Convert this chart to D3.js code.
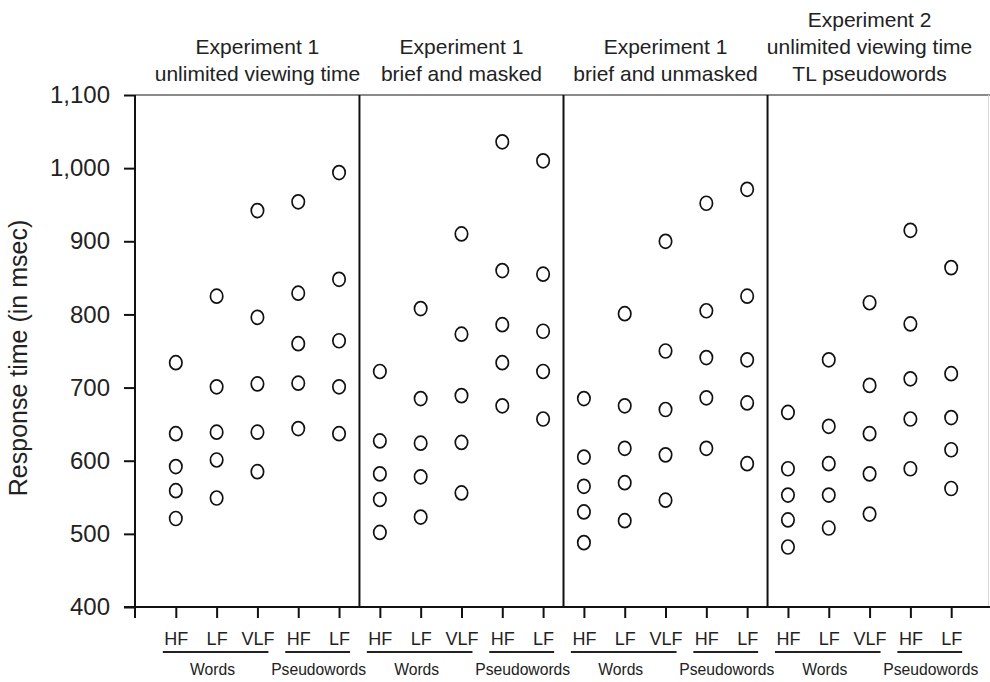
<!DOCTYPE html>
<html>
<head>
<meta charset="utf-8">
<script src="https://cdn.jsdelivr.net/npm/d3@7"></script>
<style>
   body { margin: 0; background: #fff; }
   text { font-family: Arial, "Liberation Sans", Helvetica, sans-serif; fill: #222; }
</style>
</head>
<body>
<div class="chart"></div>
<script>

// panel titles (one array of lines per panel)
const panelTitles = [
   ['Experiment 1', 'unlimited viewing time'],
   ['Experiment 1', 'brief and masked'],
   ['Experiment 1', 'brief and unmasked'],
   ['Experiment 2', 'unlimited viewing time', 'TL pseudowords']
];

// conditions inside each panel
const conditions = ['HF', 'LF', 'VLF', 'HF', 'LF'];
const wordTypes = ['Words', 'Words', 'Words', 'Pseudowords', 'Pseudowords'];

const yTicks = [400, 500, 600, 700, 800, 900, 1000, 1100];

// response times, 5 per condition
const exp1Unlimited = [
   [734, 637, 592, 559, 521],
   [825, 701, 639, 601, 549],
   [942, 796, 705, 639, 585],
   [954, 829, 760, 706, 644],
   [994, 848, 764, 701, 637]
];
const exp1Masked = [
   [722, 627, 582, 547, 502],
   [808, 685, 624, 578, 523],
   [910, 773, 689, 625, 556],
   [1036, 860, 786, 734, 675],
   [1010, 855, 777, 722, 657]
];
const exp1Unmasked = [
   [685, 605, 565, 530, 488],
   [801, 675, 617, 570, 518],
   [900, 750, 670, 608, 546],
   [952, 805, 741, 686, 617],
   [971, 825, 738, 679, 596]
];
const exp2Unlimited = [
   [666, 589, 553, 519, 482],
   [738, 647, 596, 553, 508],
   [816, 703, 637, 582, 527],
   [915, 787, 712, 657, 589],
   [864, 719, 659, 615, 562]
];

const panelData = [exp1Unlimited, exp1Masked, exp1Unmasked, exp2Unlimited];

const width = 990;
const height = 682;

const svg = d3.select('.chart')
   .append('svg')
   .attr('width', width)
   .attr('height', height);

// one key per column across all four panels
const keys = [];
panelTitles.forEach((t, p) => {
   conditions.forEach((c, i) => keys.push(p + '-' + i));
});

const xScale = d3.scalePoint()
   .domain(keys)
   .range([135, 992])
   .padding(1);

const yScale = d3.scaleLinear()
   .domain([400, 1100])
   .range([607, 95]);

const step = xScale.step();

// panel boundaries
const bounds = panelTitles.map((t, p) => [
   xScale(p + '-0') - step / 2,
   xScale(p + '-4') + step / 2
]);

// top frame line + faint right edge
svg.append('line')
   .attr('x1', 135).attr('x2', 992)
   .attr('y1', yScale(1100)).attr('y2', yScale(1100))
   .attr('stroke', '#8a8a8a').attr('stroke-width', 2);

svg.append('line')
   .attr('x1', 988.5).attr('x2', 988.5)
   .attr('y1', yScale(1100)).attr('y2', yScale(400))
   .attr('stroke', '#d8d8d8').attr('stroke-width', 1);

// separators between panels
svg.selectAll('.sep')
   .data(bounds.slice(1))
   .enter()
   .append('line')
      .classed('sep', true)
      .attr('x1', d => d[0]).attr('x2', d => d[0])
      .attr('y1', yScale(1100)).attr('y2', yScale(400))
      .attr('stroke', '#111').attr('stroke-width', 2);

// y axis
const yAxis = d3.axisLeft(yScale)
   .tickValues(yTicks)
   .tickSize(11)
   .tickPadding(14)
   .tickFormat(d3.format(','));

const yg = svg.append('g')
   .attr('transform', 'translate(135,0)')
   .call(yAxis);

yg.select('.domain')
   .attr('d', `M0,${yScale(1100)}V${yScale(400) + 11}`)
   .attr('stroke', '#111').attr('stroke-width', 2);
yg.selectAll('.tick line').attr('stroke', '#111').attr('stroke-width', 2);
yg.selectAll('.tick text')
   .style('font-size', '24px')
   .attr('fill', '#222');

// x axis
const xAxis = d3.axisBottom(xScale)
   .tickSize(11)
   .tickPadding(14)
   .tickFormat(d => conditions[+d.split('-')[1]]);

const xg = svg.append('g')
   .attr('transform', `translate(0,${yScale(400)})`)
   .call(xAxis);

xg.select('.domain')
   .attr('d', 'M124,0H992')
   .attr('stroke', '#111').attr('stroke-width', 2);
xg.selectAll('.tick line').attr('stroke', '#111').attr('stroke-width', 2);
xg.selectAll('.tick text')
   .style('font-size', '18px')
   .attr('fill', '#222');

// word type groups: underline + label
const groups = [];
panelTitles.forEach((t, p) => {
   ['Words', 'Pseudowords'].forEach(w => {
      const idx = wordTypes.map((v, i) => v === w ? i : -1).filter(i => i >= 0);
      const xs = idx.map(i => xScale(p + '-' + i));
      groups.push({name: w, x0: d3.min(xs) - 13, x1: d3.max(xs) + 11, mid: d3.mean(xs)});
   });
});

svg.selectAll('.uline')
   .data(groups)
   .enter()
   .append('line')
      .classed('uline', true)
      .attr('x1', d => d.x0).attr('x2', d => d.x1)
      .attr('y1', 652).attr('y2', 652)
      .attr('stroke', '#222').attr('stroke-width', 2);

// labels are condensed in the original, squeeze them with textLength
svg.selectAll('.glabel')
   .data(groups)
   .enter()
   .append('text')
      .classed('glabel', true)
      .attr('x', d => d.name === 'Words' ? d.mid - 4 : d.mid)
      .attr('y', 675)
      .attr('text-anchor', 'middle')
      .attr('textLength', d => d.name === 'Words' ? 45 : 95)
      .attr('lengthAdjust', 'spacingAndGlyphs')
      .style('font-size', '17px')
      .text(d => d.name);

// panel titles, bottom aligned
panelTitles.forEach((lines, p) => {
   const cx = (bounds[p][0] + bounds[p][1]) / 2;
   const n = lines.length;
   svg.append('text')
      .attr('text-anchor', 'middle')
      .style('font-size', '21px')
      .selectAll('tspan')
      .data(lines)
      .enter()
      .append('tspan')
         .attr('x', cx)
         .attr('y', (d, i) => 81 - (n - 1 - i) * 27)
         .text(d => d);
});

// y axis title
svg.append('text')
   .attr('transform', 'translate(27,358) rotate(-90)')
   .attr('text-anchor', 'middle')
   .style('font-size', '25px')
   .text('Response time (in msec)');

// the points
const points = [];
panelData.forEach((cols, p) => {
   cols.forEach((vals, i) => {
      vals.forEach(v => points.push({key: p + '-' + i, value: v}));
   });
});

svg.selectAll('.pt')
   .data(points)
   .enter()
   .append('ellipse')
      .classed('pt', true)
      .attr('cx', d => xScale(d.key))
      .attr('cy', d => yScale(d.value))
      .attr('rx', 6.2)
      .attr('ry', 7)
      .attr('fill', 'none')
      .attr('stroke', '#111')
      .attr('stroke-width', 1.7);

</script>
</body>
</html>
